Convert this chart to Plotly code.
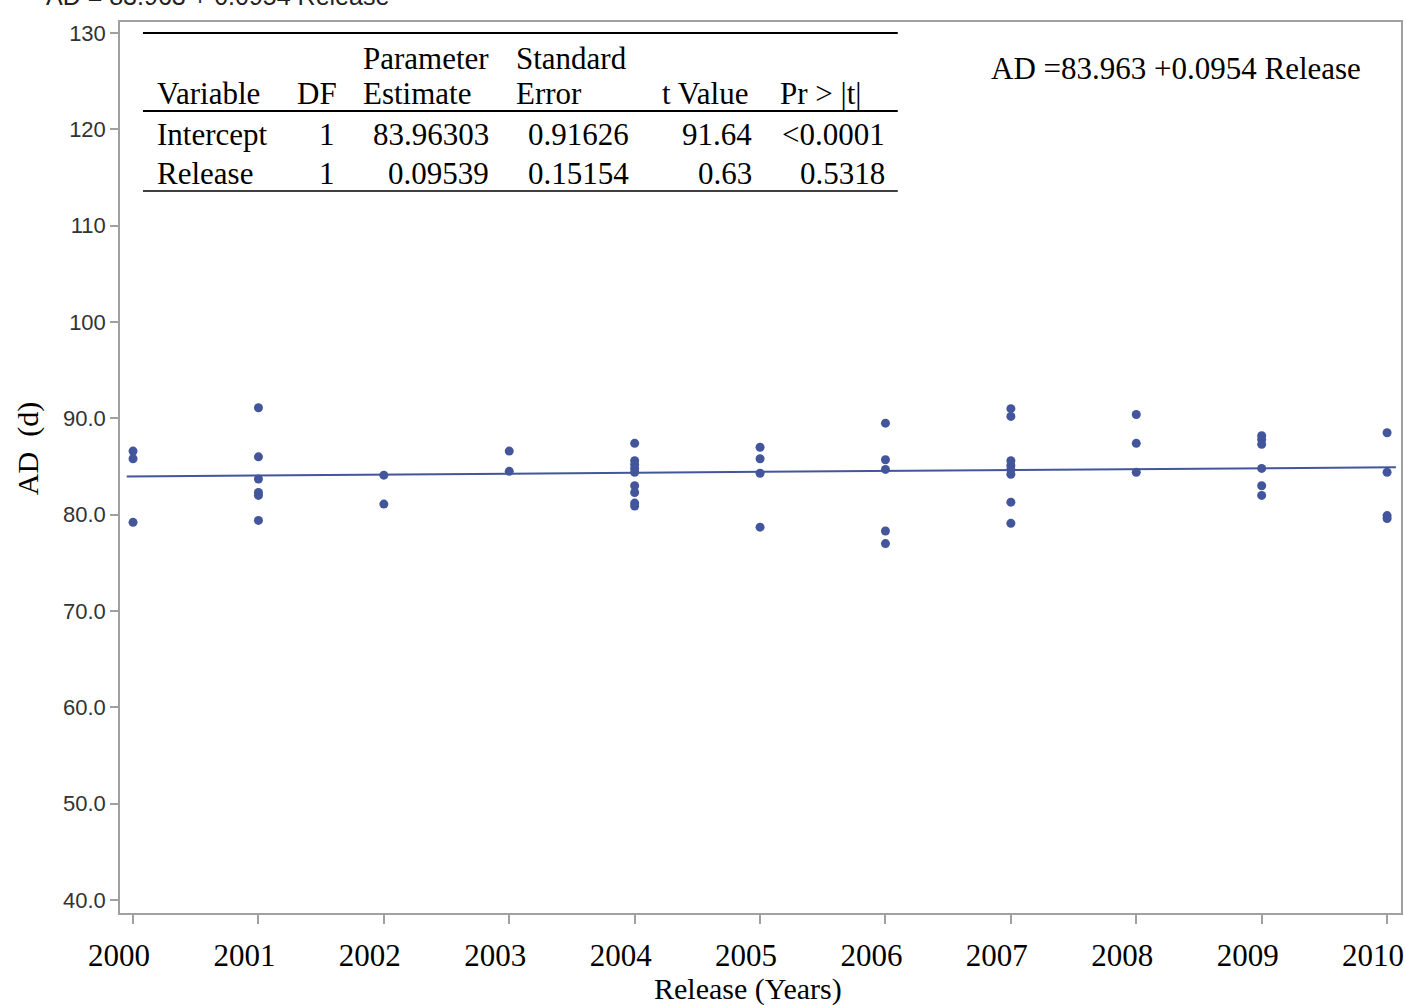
import plotly.graph_objects as go

# ---- data ----
release_2000 = [86.6, 85.8, 79.2]
release_2001 = [91.1, 86.0, 83.7, 82.3, 82.0, 79.4]
release_2002 = [84.1, 81.1]
release_2003 = [86.6, 84.5]
release_2004 = [87.4, 85.6, 85.2, 84.8, 84.4, 83.0, 82.3, 81.2, 80.9]
release_2005 = [87.0, 85.8, 84.3, 78.7]
release_2006 = [89.5, 85.7, 84.7, 78.3, 77.0]
release_2007 = [91.0, 90.2, 85.6, 85.1, 84.7, 84.2, 81.3, 79.1]
release_2008 = [90.4, 87.4, 84.4]
release_2009 = [88.2, 87.8, 87.3, 84.8, 83.0, 82.0]
release_2010 = [88.5, 84.4, 79.9, 79.6]
groups = [release_2000, release_2001, release_2002, release_2003, release_2004,
          release_2005, release_2006, release_2007, release_2008, release_2009,
          release_2010]
release_codes = list(range(11))
year_labels = ["2000", "2001", "2002", "2003", "2004", "2005", "2006", "2007",
               "2008", "2009", "2010"]
y_tickvals = [40, 50, 60, 70, 80, 90, 100, 110, 120, 130]
y_ticktext = ["40.0", "50.0", "60.0", "70.0", "80.0", "90.0", "100", "110", "120", "130"]

intercept = 83.96303
slope = 0.09539
line_x = [-0.05, 10.07]

table_header1 = ["Parameter", "Standard"]
table_header2 = ["Variable", "DF", "Estimate", "Error", "t Value", "Pr > |t|"]
table_rows = [
    ["Intercept", "1", "83.96303", "0.91626", "91.64", "<0.0001"],
    ["Release", "1", "0.09539", "0.15154", "0.63", "0.5318"],
]
equation = "AD =83.963 +0.0954 Release"
top_cut_text = "AD = 83.963 + 0.0954 Release"

COLOR = "#43559b"
SERIF = "Liberation Serif, Times New Roman, serif"
SANS = "Liberation Sans, Arial, sans-serif"

xs, ys = [], []
for code, vals in zip(release_codes, groups):
    xs += [code] * len(vals)
    ys += vals

fig = go.Figure()
fig.add_trace(go.Scatter(
    x=line_x, y=[intercept + slope * v for v in line_x], mode="lines",
    line=dict(color=COLOR, width=2), hoverinfo="skip", showlegend=False))
fig.add_trace(go.Scatter(
    x=xs, y=ys, mode="markers",
    marker=dict(color=COLOR, size=9, line=dict(width=0)), showlegend=False))

W, H = 1405, 1005
L, R, T, B = 120, 2, 22, 92
pw, ph = W - L - R, H - T - B


def px(xp):
    return (xp - L) / pw


def py(yp):
    return (T + ph - yp) / ph


annotations = []


def txt(text, x, y, xanchor="left", size=31, font=SERIF, color="black"):
    shift = -3 if xanchor == "left" else 3
    annotations.append(dict(text=text, x=px(x), y=py(y), xref="paper", yref="paper",
                            xanchor=xanchor, yanchor="middle", showarrow=False,
                            xshift=shift,
                            font=dict(family=font, size=size, color=color)))


# table
txt(table_header1[0], 364, 58)
txt(table_header1[1], 518, 58)
hdr_pos = [(158, "left"), (336, "right"), (364, "left"), (518, "left"), (748, "right"), (782, "left")]
for t, (x, a) in zip(table_header2, hdr_pos):
    txt(t, x, 94, a)
row_pos = [(158, "left"), (334, "right"), (489, "right"), (629, "right"), (752, "right"), (885, "right")]
for row, yy in zip(table_rows, [134, 173]):
    for t, (x, a) in zip(row, row_pos):
        txt(t, x, yy, a)

txt(equation, 993, 69)

# axis titles
annotations.append(dict(text="AD  (d)", x=px(28), y=py(449), xref="paper", yref="paper",
                        textangle=-90, showarrow=False, xanchor="center", yanchor="middle",
                        font=dict(family=SERIF, size=30, color="black")))
annotations.append(dict(text="Release (Years)", x=px(749), y=py(989), xref="paper", yref="paper",
                        showarrow=False, xanchor="center", yanchor="middle",
                        font=dict(family=SERIF, size=30, color="black")))

# partially cut-off text at the top edge (only the bottom of the glyphs shows)
annotations.append(dict(text=top_cut_text, x=px(44), y=py(12), xref="paper",
                        yref="paper", showarrow=False, xanchor="left", yanchor="bottom",
                        font=dict(family=SANS, size=25, color="#222")))

shapes = []
for yy, w in [(33, 2), (111, 2), (191, 1.5)]:
    shapes.append(dict(type="line", xref="paper", yref="paper", x0=px(143), x1=px(899),
                       y0=py(yy), y1=py(yy), line=dict(color="black", width=w)))

fig.update_layout(
    width=W, height=H,
    margin=dict(l=L, r=R, t=T, b=B),
    plot_bgcolor="white", paper_bgcolor="white",
    annotations=annotations, shapes=shapes,
    xaxis=dict(range=[-0.104, 10.111], tickvals=release_codes, ticktext=year_labels,
               showgrid=False, zeroline=False, showline=True, linecolor="#a0a0a0",
               linewidth=1.5, mirror=True, ticks="outside", ticklen=9, tickcolor="#a0a0a0",
               tickwidth=1.5, tickfont=dict(family=SERIF, size=31, color="black"),
               ticklabelstandoff=5, ticklabelshift=-14),
    yaxis=dict(range=[38.65, 131.14], tickvals=y_tickvals, ticktext=y_ticktext,
               showgrid=False, zeroline=False, showline=True, linecolor="#a0a0a0",
               linewidth=1.5, mirror=True, ticks="outside", ticklen=8, tickcolor="#a0a0a0",
               tickwidth=1.5, tickfont=dict(family=SANS, size=22, color="#333")),
)

fig.write_html("out.html", config={"displayModeBar": False},
               post_script="document.body.style.margin='0px';")
